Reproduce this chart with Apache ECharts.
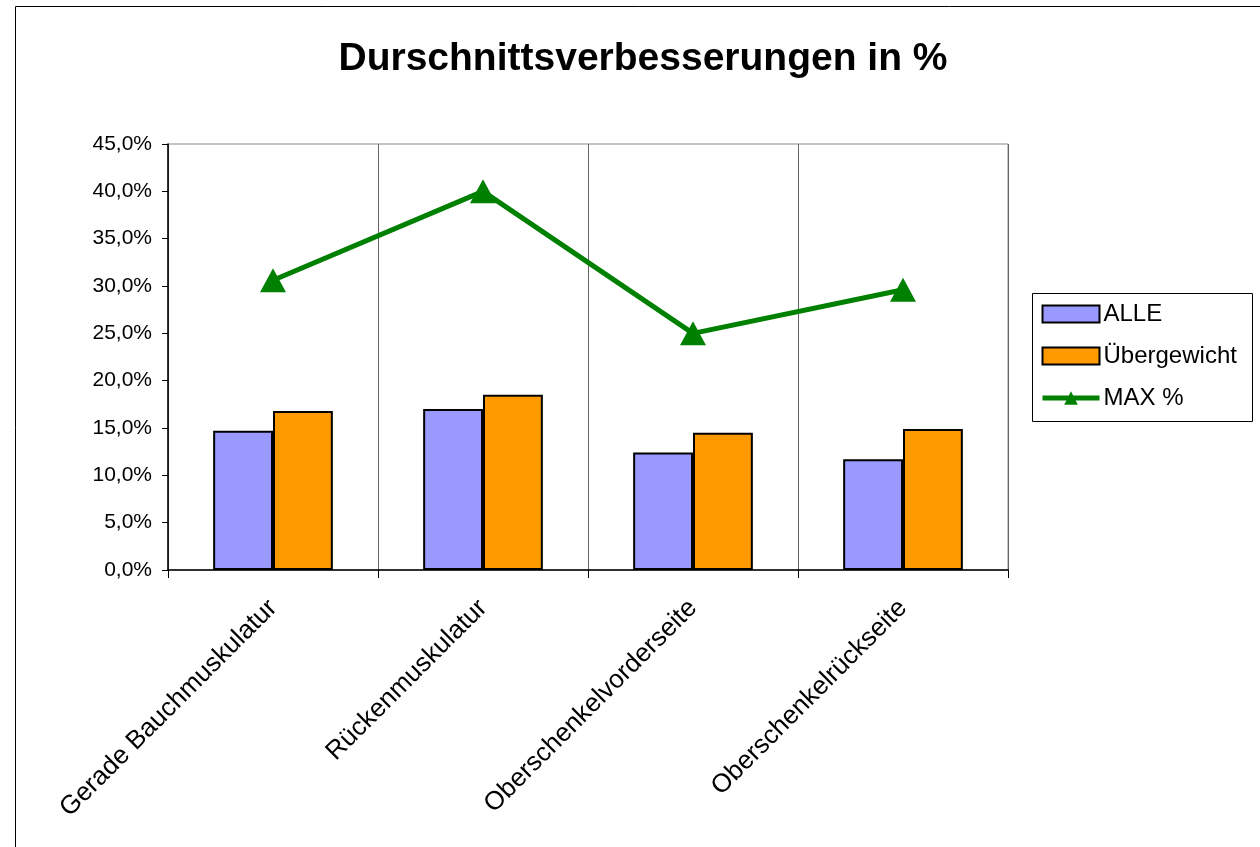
<!DOCTYPE html>
<html lang="de">
<head>
    <meta charset="UTF-8"/>
    <style>
        html, body { margin: 0; padding: 0; background: #fff; }
        #main { width: 1260px; height: 847px; }
    </style>
</head>
<body>
<div id="main"></div>
<script src="https://cdn.jsdelivr.net/npm/echarts@6/dist/echarts.min.js"></script>
<script type="text/javascript">
    // Daten
    var categories = ['Gerade Bauchmuskulatur', 'Rückenmuskulatur', 'Oberschenkelvorderseite', 'Oberschenkelrückseite'];
    var alle = [14.7, 17.0, 12.4, 11.7];
    var uebergewicht = [16.8, 18.5, 14.5, 14.9];
    var maxProzent = [30.6, 40.0, 25.0, 29.6];

    var font = 'Liberation Sans, Arial, sans-serif';

    var myChart = echarts.init(document.getElementById('main'));

    var options = {
        animation: false,
        backgroundColor: '#fff',
        title: {
            text: 'Durschnittsverbesserungen in %',
            left: 638,
            textAlign: 'center',
            top: 35,
            textStyle: { fontFamily: font, fontSize: 39, fontWeight: 'bold', color: '#000' }
        },
        graphic: [{
            type: 'rect',
            shape: { x: 15.5, y: 6.5, width: 1300, height: 900 },
            style: { fill: 'none', stroke: '#000', lineWidth: 1 },
            z: 0
        }, {
            // Legendenrahmen
            type: 'rect',
            shape: { x: 1032.5, y: 293.5, width: 220, height: 128 },
            style: { fill: '#fff', stroke: '#000', lineWidth: 1 },
            z: 1
        }],
        legend: {
            orient: 'vertical',
            left: 1040,
            top: 302,
            padding: 0,
            itemGap: 18,
            itemWidth: 57,
            itemHeight: 17,
            itemStyle: { borderColor: '#000', borderWidth: 2 },
            lineStyle: { width: 5 },
            textStyle: { fontFamily: font, fontSize: 24, color: '#000', padding: [0, 0, 0, -1] },
            data: [
                { name: 'ALLE', icon: 'rect' },
                { name: 'Übergewicht', icon: 'rect' },
                { name: 'MAX %', itemStyle: { borderWidth: 0 } }
            ],
            z: 3
        },
        grid: {
            left: 168,
            right: 252,
            top: 144,
            bottom: 277,
            show: true,
            borderColor: '#888',
            borderWidth: 1
        },
        xAxis: {
            type: 'category',
            data: categories,
            axisLine: { lineStyle: { color: '#000', width: 1.5 } },
            axisTick: { show: true, length: 8, lineStyle: { color: '#000' } },
            splitLine: { show: true, lineStyle: { color: '#666', width: 1 } },
            axisLabel: {
                rotate: 45,
                margin: 34,
                fontFamily: font,
                fontSize: 26,
                color: '#000'
            }
        },
        yAxis: {
            type: 'value',
            min: 0,
            max: 45,
            interval: 5,
            axisLine: { show: true, lineStyle: { color: '#000', width: 1.5 } },
            axisTick: { show: true, length: 6, lineStyle: { color: '#000' } },
            splitLine: { show: false },
            axisLabel: {
                margin: 16,
                fontFamily: font,
                fontSize: 21,
                color: '#000',
                formatter: function (v) { return v.toFixed(1).replace('.', ',') + '%'; }
            }
        },
        series: [
            {
                name: 'ALLE',
                type: 'bar',
                data: alle,
                barGap: '0%',
                barCategoryGap: '43%',
                itemStyle: { color: '#9999FF', borderColor: '#000', borderWidth: 2 }
            },
            {
                name: 'Übergewicht',
                type: 'bar',
                data: uebergewicht,
                itemStyle: { color: '#FF9900', borderColor: '#000', borderWidth: 2 }
            },
            {
                name: 'MAX %',
                type: 'line',
                data: maxProzent,
                symbol: 'triangle',
                symbolSize: [26, 24],
                lineStyle: { color: '#008000', width: 5 },
                itemStyle: { color: '#008000' },
                z: 5
            }
        ]
    };

    myChart.setOption(options);
</script>
</body>
</html>
